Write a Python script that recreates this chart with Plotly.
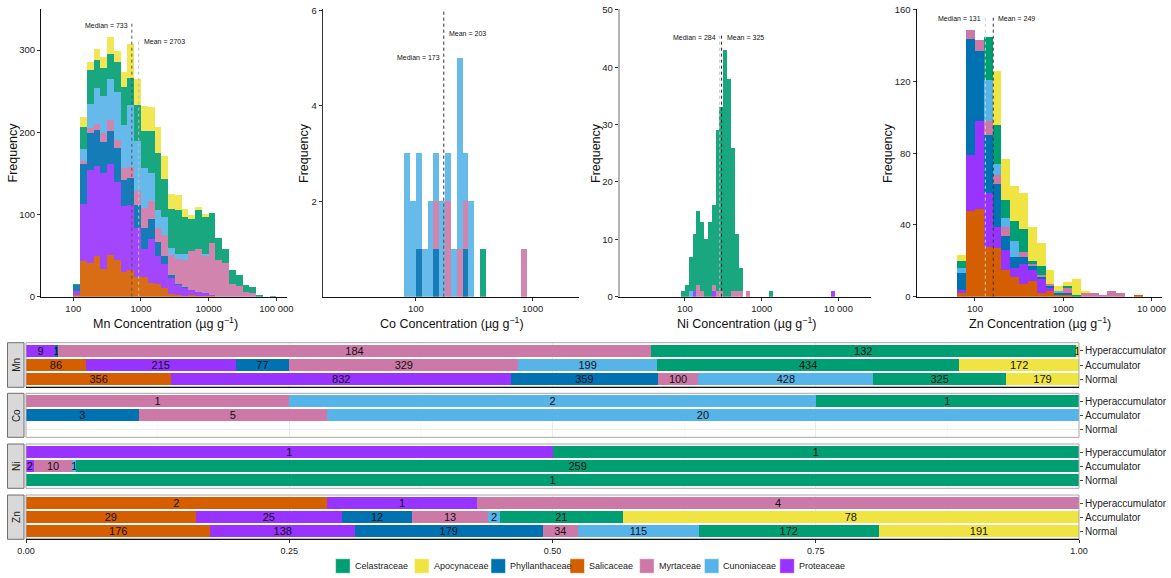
import math
import plotly.graph_objects as go

W, H = 1171, 578

# ---------------- data ----------------
families = ["Salicaceae", "Proteaceae", "Phyllanthaceae", "Myrtaceae",
            "Cunoniaceae", "Celastraceae", "Apocynaceae"]
legend_order = ["Celastraceae", "Apocynaceae", "Phyllanthaceae", "Salicaceae",
                "Myrtaceae", "Cunoniaceae", "Proteaceae"]
family_colors = ["#D55E00", "#9933FF", "#0072B2", "#CC79A7",
                 "#56B4E9", "#009E73", "#F0E442"]
elements = ["Mn", "Co", "Ni", "Zn"]
statuses = ["Normal", "Accumulator", "Hyperaccumulator"]

# counts per status, in the order of `families`
mn_normal = [356, 832, 359, 100, 428, 325, 179]
mn_accumulator = [86, 215, 77, 329, 199, 434, 172]
mn_hyper = [0, 9, 1, 184, 0, 132, 1]
co_normal = [0, 0, 0, 0, 0, 0, 0]
co_accumulator = [0, 0, 3, 5, 20, 0, 0]
co_hyper = [0, 0, 0, 1, 2, 1, 0]
ni_normal = [0, 0, 0, 0, 0, 1, 0]
ni_accumulator = [0, 2, 0, 10, 1, 259, 0]
ni_hyper = [0, 1, 0, 0, 0, 1, 0]
zn_normal = [176, 138, 179, 34, 115, 172, 191]
zn_accumulator = [29, 25, 12, 13, 2, 21, 78]
zn_hyper = [2, 1, 0, 4, 0, 0, 0]

# histogram bins: lower edge of first bin and bin width, in log10(µg g-1)
mn_bin_start, mn_bin_width = 2.0, 0.1
co_bin_start, co_bin_width = 1.9, 0.05
ni_bin_start, ni_bin_width = 1.95, 0.05
zn_bin_start, zn_bin_width = 1.8, 0.1

mn_h_sal = [2, 43, 41, 49, 34, 51, 45, 30, 32, 24, 24, 17, 16, 10, 3, 2, 1, 2, 1, 1, 1, 0, 0, 0, 0, 0, 0, 0, 0, 0]
mn_h_pro = [5, 70, 113, 110, 116, 111, 94, 80, 80, 59, 34, 53, 33, 30, 20, 12, 10, 6, 5, 3, 1, 0, 0, 0, 0, 0, 0, 0, 0, 0]
mn_h_phy = [7, 49, 45, 44, 38, 39, 42, 32, 32, 28, 26, 24, 18, 9, 3, 2, 1, 0, 0, 1, 0, 0, 0, 0, 0, 0, 0, 0, 0, 0]
mn_h_myr = [0, 3, 6, 7, 11, 14, 10, 15, 14, 18, 24, 22, 17, 26, 25, 30, 33, 47, 52, 45, 63, 45, 41, 15, 13, 6, 5, 0, 0, 0]
mn_h_cun = [0, 15, 30, 44, 45, 50, 58, 52, 75, 61, 49, 35, 22, 22, 8, 6, 7, 1, 0, 2, 0, 0, 0, 0, 0, 0, 0, 0, 0, 0]
mn_h_cel = [1, 26, 41, 34, 34, 30, 36, 46, 33, 43, 45, 50, 69, 46, 48, 54, 45, 39, 47, 45, 37, 27, 17, 18, 13, 8, 7, 2, 0, 1]
mn_h_apo = [0, 13, 10, 13, 13, 21, 14, 18, 41, 32, 30, 30, 32, 28, 18, 18, 10, 4, 4, 4, 0, 0, 0, 0, 0, 0, 0, 0, 0, 0]

co_h_phy = [0, 0, 1, 0, 0, 1, 0, 0, 0, 0, 1, 0, 0, 0, 0, 0, 0, 0, 0, 0, 0]
co_h_myr = [0, 0, 0, 0, 0, 1, 0, 2, 0, 1, 1, 0, 0, 0, 0, 0, 0, 0, 0, 0, 1]
co_h_cun = [3, 2, 2, 1, 2, 1, 2, 1, 1, 4, 1, 2, 0, 0, 0, 0, 0, 0, 0, 0, 0]
co_h_cel = [0, 0, 0, 0, 0, 0, 0, 0, 0, 0, 0, 0, 0, 1, 0, 0, 0, 0, 0, 0, 0]

ni_h_pro = [0, 0, 0, 1, 0, 0, 0, 0, 1, 0, 0, 0, 0, 0, 0, 0, 0, 0, 0, 0,
            0, 0, 0, 0, 0, 0, 0, 0, 0, 0, 0, 0, 0, 0, 0, 0, 0, 0, 0, 1]
ni_h_myr = [0, 0, 0, 0, 2, 1, 0, 0, 1, 1, 1, 0, 0, 1, 1, 1, 0, 1, 0, 0,
            0, 0, 0, 0, 0, 0, 0, 0, 0, 0, 0, 0, 0, 0, 0, 0, 0, 0, 0, 0]
ni_h_cun = [0, 0, 1, 0, 0, 0, 0, 0, 0, 0, 0, 0, 0, 0, 0, 0, 0, 0, 0, 0,
            0, 0, 0, 0, 0, 0, 0, 0, 0, 0, 0, 0, 0, 0, 0, 0, 0, 0, 0, 0]
ni_h_cel = [1, 2, 6, 10, 13, 12, 10, 13, 14, 28, 32, 43, 38, 25, 10, 4, 0, 0, 0, 0,
            0, 0, 0, 1, 0, 0, 0, 0, 0, 0, 0, 0, 0, 0, 0, 0, 0, 0, 0, 0]

zn_h_sal = [2, 48, 49, 28, 27, 15, 11, 7, 9, 2, 3, 1, 1, 0, 0, 0, 0, 0, 0, 0, 1]
zn_h_pro = [2, 31, 49, 30, 12, 11, 5, 11, 6, 8, 2, 0, 0, 0, 0, 0, 0, 0, 0, 0, 0]
zn_h_phy = [9, 65, 39, 32, 24, 8, 6, 4, 2, 1, 1, 1, 1, 0, 0, 0, 0, 0, 0, 0, 0]
zn_h_myr = [0, 5, 6, 8, 5, 5, 0, 3, 1, 1, 1, 0, 3, 0, 2, 2, 1, 3, 2, 0, 0]
zn_h_cun = [3, 0, 0, 23, 6, 5, 9, 0, 0, 0, 0, 1, 0, 0, 0, 0, 0, 0, 0, 0, 0]
zn_h_cel = [4, 0, 0, 24, 22, 10, 11, 13, 2, 5, 0, 0, 1, 1, 0, 0, 0, 0, 0, 0, 0]
zn_h_apo = [3, 0, 0, 0, 30, 23, 20, 20, 19, 13, 8, 3, 2, 9, 1, 0, 0, 0, 0, 0, 0]

median_label = [733, 173, 284, 131]
mean_label = [2703, 203, 325, 249]
median_line_at = [733, 173, 284, 131]
mean_line_at = [925, 173, 300, 161]

# ---------------- assemble ----------------
bar_counts = {
    "Mn": [mn_normal, mn_accumulator, mn_hyper],
    "Co": [co_normal, co_accumulator, co_hyper],
    "Ni": [ni_normal, ni_accumulator, ni_hyper],
    "Zn": [zn_normal, zn_accumulator, zn_hyper],
}
hist_bins = {
    "Mn": (mn_bin_start, mn_bin_width),
    "Co": (co_bin_start, co_bin_width),
    "Ni": (ni_bin_start, ni_bin_width),
    "Zn": (zn_bin_start, zn_bin_width),
}
hist_counts = {
    "Mn": {"Salicaceae": mn_h_sal, "Proteaceae": mn_h_pro, "Phyllanthaceae": mn_h_phy,
           "Myrtaceae": mn_h_myr, "Cunoniaceae": mn_h_cun, "Celastraceae": mn_h_cel,
           "Apocynaceae": mn_h_apo},
    "Co": {"Phyllanthaceae": co_h_phy, "Myrtaceae": co_h_myr, "Cunoniaceae": co_h_cun,
           "Celastraceae": co_h_cel},
    "Ni": {"Proteaceae": ni_h_pro, "Myrtaceae": ni_h_myr, "Cunoniaceae": ni_h_cun,
           "Celastraceae": ni_h_cel},
    "Zn": {"Salicaceae": zn_h_sal, "Proteaceae": zn_h_pro, "Phyllanthaceae": zn_h_phy,
           "Myrtaceae": zn_h_myr, "Cunoniaceae": zn_h_cun, "Celastraceae": zn_h_cel,
           "Apocynaceae": zn_h_apo},
}
color_of = dict(zip(families, family_colors))


def fx(p):
    return p / W


def fy(p):
    return 1 - p / H


def ax_names(i):
    s = "" if i == 1 else str(i)
    return "x" + s, "y" + s, "xaxis" + s, "yaxis" + s


FONT = "Liberation Sans, Arial, sans-serif"

hist_layout = {
    "Mn": dict(dom=(41, 287), xr=(1.523, 5.157), yr=(0, 349.6), yt=[0, 100, 200, 300],
               xt=[2, 3, 4, 5], xtt=["100", "1000", "10000", "100 000"], op=0.9,
               ylc="#111111", ylw=1, title_x=165, freq_x=12.5,
               med_y=330, mean_y=310, line_top_med=332, line_top_mean=312,
               med_c="#555555", mean_c="#bdbdbd"),
    "Co": dict(dom=(323.3, 579.3), xr=(1.206, 3.40), yr=(0, 6.02), yt=[2, 4, 6],
               xt=[2, 3], xtt=["100", "1000"], op=0.9,
               ylc="#333333", ylw=1.6, title_x=452, freq_x=304,
               med_y=5.02, mean_y=5.51, line_top_med=6.0, line_top_mean=6.0,
               med_c="#666666", mean_c="#666666"),
    "Ni": dict(dom=(620, 871), xr=(1.153, 4.425), yr=(0, 50.1), yt=[0, 10, 20, 30, 40, 50],
               xt=[2, 3, 4], xtt=["100", "1000", "10 000"], op=0.9,
               ylc="#b5b5b5", ylw=2.2, title_x=746, freq_x=596,
               med_y=45.1, mean_y=45.1, line_top_med=45.5, line_top_mean=45.5,
               med_c="#bdbdbd", mean_c="#222222"),
    "Zn": dict(dom=(916.7, 1162.3), xr=(1.34, 4.121), yr=(0, 160.3), yt=[0, 40, 80, 120, 160],
               xt=[2, 3, 4], xtt=["100", "1000", "10 000"], op=1.0,
               ylc="#111111", ylw=1.2, title_x=1040, freq_x=888,
               med_y=155.4, mean_y=155.4, line_top_med=156, line_top_mean=156,
               med_c="#cfcfcf", mean_c="#333333"),
}

panel_y = {"Mn": (342.7, 387.3), "Co": (393.3, 437.3), "Ni": (444.0, 488.3), "Zn": (495.0, 539.3)}
bar_x_dom = (26.0, 1079.0)

fig = go.Figure()
layout = dict(
    template="none",
    width=W, height=H, margin=dict(l=0, r=0, t=0, b=0, pad=0, autoexpand=False),
    paper_bgcolor="white", plot_bgcolor="white",
    barmode="stack", showlegend=False,
    font=dict(family=FONT, color="#111111"),
)
shapes = []
annotations = []

# ----- top histograms -----
for i, el in enumerate(elements, start=1):
    xa, ya, xkey, ykey = ax_names(i)
    spec = hist_layout[el]
    start, bw = hist_bins[el]
    for fam in families:
        if fam not in hist_counts[el]:
            continue
        counts = hist_counts[el][fam]
        centers = [start + bw * (k + 0.5) for k in range(len(counts))]
        fig.add_trace(go.Bar(
            x=centers, y=counts, width=bw, xaxis=xa, yaxis=ya,
            marker=dict(color=color_of[fam], line=dict(width=0)),
            opacity=spec["op"], name=fam, hoverinfo="skip",
        ))
    layout[xkey] = dict(
        domain=[fx(spec["dom"][0]), fx(spec["dom"][1])], range=list(spec["xr"]),
        anchor=ya, tickmode="array", tickvals=spec["xt"], ticktext=spec["xtt"],
        ticks="outside", ticklen=3, tickcolor="#333333", showline=True,
        linecolor="#111111", linewidth=1, showgrid=False, zeroline=False,
        tickfont=dict(size=9.5, color="#222222"), fixedrange=True, automargin=False,
    )
    layout[ykey] = dict(
        domain=[fy(296.7), fy(9.3)], range=list(spec["yr"]), anchor=xa,
        tickmode="array", tickvals=spec["yt"], ticks="outside", ticklen=3,
        tickcolor="#333333", showline=True, linecolor=spec["ylc"],
        linewidth=spec["ylw"], showgrid=False, zeroline=False,
        tickfont=dict(size=9.5, color="#222222"), fixedrange=True, automargin=False,
    )
    # median / mean lines
    j = i - 1
    for val, top, col in ((median_line_at[j], spec["line_top_med"], spec["med_c"]),
                          (mean_line_at[j], spec["line_top_mean"], spec["mean_c"])):
        shapes.append(dict(type="line", xref=xa, yref=ya,
                           x0=math.log10(val), x1=math.log10(val), y0=0, y1=top,
                           line=dict(color=col, width=1, dash="dot")))
    annotations.append(dict(
        xref=xa, yref=ya, x=math.log10(median_line_at[j]), y=spec["med_y"],
        text=f"Median = {median_label[j]}", showarrow=False, xanchor="right",
        xshift=-2, font=dict(size=7, color="#111111")))
    annotations.append(dict(
        xref=xa, yref=ya, x=math.log10(mean_line_at[j]), y=spec["mean_y"],
        text=f"Mean = {mean_label[j]}", showarrow=False, xanchor="left",
        xshift=3, font=dict(size=7, color="#111111")))
    # axis titles
    annotations.append(dict(
        xref="paper", yref="paper", x=fx(spec["title_x"]), y=fy(322.5),
        text=f"{el} Concentration (µg g<sup>−1</sup>)", showarrow=False,
        xanchor="center", yanchor="middle", font=dict(size=12.5, color="#111111")))
    annotations.append(dict(
        xref="paper", yref="paper", x=fx(spec["freq_x"]), y=fy(153),
        text="Frequency", textangle=-90, showarrow=False,
        xanchor="center", yanchor="middle", font=dict(size=12.5, color="#111111")))

# ----- bottom proportion bars -----
for i, el in enumerate(elements, start=5):
    xa, ya, xkey, ykey = ax_names(i)
    rows = bar_counts[el]
    totals = [sum(r) for r in rows]
    for f, fam in enumerate(families):
        xs, txt = [], []
        for r, row in enumerate(rows):
            c = row[f]
            xs.append(c / totals[r] if c else None)
            txt.append(str(c) if c else "")
        if all(v is None for v in xs):
            continue
        fig.add_trace(go.Bar(
            orientation="h", y=statuses, x=xs, text=txt, width=0.87,
            xaxis=xa, yaxis=ya, marker=dict(color=color_of[fam], line=dict(width=0)),
            textposition="inside", insidetextanchor="middle", constraintext="none",
            textangle=0, textfont=dict(size=11, color="#111111", family=FONT),
            name=fam, hoverinfo="skip",
        ))
    top_px, bot_px = panel_y[el]
    is_last = el == "Zn"
    layout[xkey] = dict(
        domain=[fx(bar_x_dom[0]), fx(bar_x_dom[1])], range=[0, 1], anchor=ya,
        tickmode="array", tickvals=[0, 0.25, 0.5, 0.75, 1],
        ticktext=["0.00", "0.25", "0.50", "0.75", "1.00"],
        showticklabels=is_last, ticks="outside" if is_last else "", ticklen=3,
        tickcolor="#333333", showgrid=True, gridcolor="#ebebeb", gridwidth=1,
        minor=dict(dtick=0.125, showgrid=True, gridcolor="#f3f3f3", gridwidth=0.6, tick0=0),
        zeroline=False, showline=False, tickfont=dict(size=9, color="#222222"),
        fixedrange=True, automargin=False,
    )
    layout[ykey] = dict(
        domain=[fy(bot_px), fy(top_px)], range=[-0.57, 2.57], anchor=xa, side="right",
        type="category", categoryorder="array", categoryarray=statuses,
        ticks="outside", ticklen=3, tickcolor="#444444", showgrid=True,
        gridcolor="#ebebeb", gridwidth=1, zeroline=False, showline=False,
        tickfont=dict(size=10, color="#222222"), fixedrange=True, automargin=False,
    )
    # panel border
    shapes.append(dict(type="rect", xref="paper", yref="paper",
                       x0=fx(bar_x_dom[0]), x1=fx(bar_x_dom[1]), y0=fy(bot_px), y1=fy(top_px),
                       line=dict(color="#a8a8a8", width=1), layer="above"))
    if el in ("Mn", "Zn"):
        shapes.append(dict(type="line", xref="paper", yref="paper",
                           x0=fx(bar_x_dom[0]), x1=fx(bar_x_dom[1]), y0=fy(bot_px), y1=fy(bot_px),
                           line=dict(color="#111111", width=1.3), layer="above"))
    # facet strip
    shapes.append(dict(type="rect", xref="paper", yref="paper",
                       x0=fx(7.5), x1=fx(24.0), y0=fy(bot_px), y1=fy(top_px),
                       fillcolor="#d9d9d9", line=dict(color="#6e6e6e", width=1)))
    annotations.append(dict(
        xref="paper", yref="paper", x=fx(15.8), y=fy((top_px + bot_px) / 2),
        text=el, textangle=-90, showarrow=False, xanchor="center", yanchor="middle",
        font=dict(size=10, color="#1a1a1a")))

# ----- legend (drawn) -----
key_left = [335.6, 414.5, 491.0, 570.0, 639.6, 704.4, 779.8]
key_size = 14.5
leg_y = 566.0
for fam, kx in zip(legend_order, key_left):
    shapes.append(dict(type="rect", xref="paper", yref="paper",
                       x0=fx(kx), x1=fx(kx + key_size),
                       y0=fy(leg_y + key_size / 2), y1=fy(leg_y - key_size / 2),
                       fillcolor=color_of[fam], line=dict(color="white", width=0.5)))
    annotations.append(dict(
        xref="paper", yref="paper", x=fx(kx + key_size + 2.5), y=fy(leg_y),
        text=fam, showarrow=False, xanchor="left", yanchor="middle",
        font=dict(size=9, color="#222222")))

layout["shapes"] = shapes
layout["annotations"] = annotations
fig.update_layout(**layout)
fig.write_html(
    "out.html",
    config={"displayModeBar": False, "staticPlot": True},
    post_script="document.body.style.margin='0px';document.body.style.overflow='hidden';",
)
